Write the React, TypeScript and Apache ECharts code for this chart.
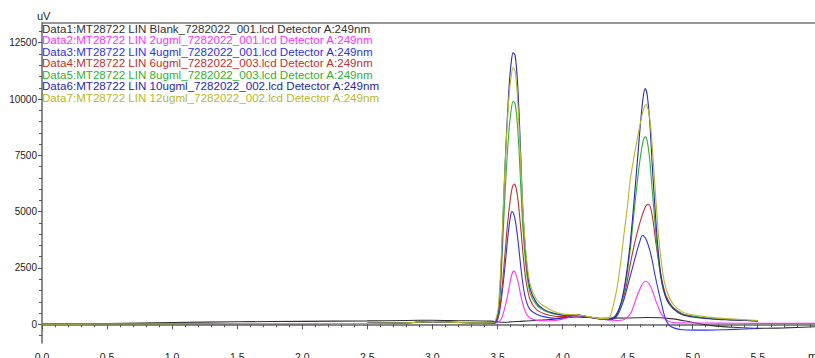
import React, { useEffect, useRef } from "react";
import * as echarts from "echarts";

const SERIES_NAMES = [
  "Data1:MT28722 LIN Blank_7282022_001.lcd Detector A:249nm",
  "Data2:MT28722 LIN 2ugml_7282022_001.lcd Detector A:249nm",
  "Data3:MT28722 LIN 4ugml_7282022_001.lcd Detector A:249nm",
  "Data4:MT28722 LIN 6ugml_7282022_003.lcd Detector A:249nm",
  "Data5:MT28722 LIN 8ugml_7282022_003.lcd Detector A:249nm",
  "Data6:MT28722 LIN 10ugml_7282022_002.lcd Detector A:249nm",
  "Data7:MT28722 LIN 12ugml_7282022_002.lcd Detector A:249nm",
];
const SERIES_COLORS = ["#303030", "#ff30ff", "#3030f0", "#c03030", "#30b030", "#2828b0", "#b8b828"];

// baseline segment shared by the sample runs (time min, uV)
const BASELINE = [[0, 0], [0.5, 10], [1.0, 20], [1.5, 30], [2.0, 30], [2.5, 40], [2.8, 70], [3.0, 120], [3.2, 80], [3.4, 70]];

const DATA1 = [[0, 0], [0.5, 30], [1.0, 80], [1.5, 110], [2.0, 130], [2.5, 150], [2.8, 170], [3.0, 180], [3.2, 160], [3.45, 140], [3.55, 90], [3.7, 140], [3.9, 210], [4.1, 330], [4.3, 270], [4.5, 280], [4.65, 300], [4.85, 240], [5.0, 80], [5.15, -60], [5.3, -130], [5.5, -180], [5.7, -160], [5.94, -110]];

const DATA2 = [[3.47, 50], [3.5, 80], [3.53, 250], [3.555, 700], [3.575, 1200], [3.595, 1800], [3.61, 2200], [3.625, 2370], [3.64, 2250], [3.66, 1850], [3.68, 1250], [3.7, 800], [3.72, 480], [3.75, 280], [3.8, 180], [3.86, 160], [3.94, 170], [4.02, 260], [4.1, 380], [4.2, 320], [4.3, 220],
  [4.35, 190], [4.42, 170], [4.47, 200], [4.5, 320], [4.53, 550], [4.56, 1050], [4.59, 1500], [4.615, 1800], [4.64, 1910], [4.665, 1800], [4.69, 1500], [4.71, 1150], [4.73, 850], [4.76, 450], [4.8, 180], [4.85, 80], [4.95, 60], [5.2, 50], [5.5, 40], [5.94, 40]];

const DATA3 = [[3.47, 40], [3.5, 200], [3.52, 700], [3.54, 1600], [3.56, 2700], [3.58, 3900], [3.6, 4800], [3.612, 5000], [3.625, 4900], [3.64, 4500], [3.66, 3600], [3.68, 2500], [3.7, 1600], [3.72, 1050], [3.75, 650], [3.8, 450], [3.86, 330], [3.94, 270], [4.02, 300], [4.1, 400], [4.2, 310], [4.3, 220],
  [4.35, 200], [4.4, 260], [4.43, 480], [4.47, 1065], [4.5, 1700], [4.53, 2350], [4.56, 3000], [4.59, 3600], [4.615, 3950], [4.64, 3800], [4.67, 3300], [4.69, 2800], [4.71, 2200], [4.74, 1400], [4.765, 800], [4.79, 250], [4.82, -50], [4.86, -170], [4.92, -240], [5.0, -260], [5.1, -260], [5.25, -240], [5.4, -210], [5.5, -180]];

const DATA4 = [[3.47, 50], [3.5, 250], [3.52, 800], [3.54, 1900], [3.56, 3300], [3.58, 4600], [3.6, 5600], [3.615, 6100], [3.63, 6220], [3.645, 6000], [3.66, 5400], [3.68, 4200], [3.7, 2900], [3.72, 1900], [3.75, 1100], [3.8, 650], [3.86, 470], [3.94, 360], [4.02, 340], [4.1, 410], [4.2, 320], [4.3, 230],
  [4.35, 220], [4.4, 350], [4.43, 620], [4.46, 1050], [4.49, 1700], [4.52, 2650], [4.55, 3500], [4.58, 4200], [4.61, 4800], [4.64, 5250], [4.66, 5330], [4.68, 5100], [4.7, 4400], [4.72, 3500], [4.745, 2550], [4.77, 1800], [4.8, 1200], [4.85, 750], [4.92, 470], [5.0, 360], [5.1, 280], [5.25, 210], [5.5, 150]];

const DATA5 = [[3.47, 50], [3.5, 320], [3.515, 900], [3.53, 2300], [3.545, 4200], [3.56, 6000], [3.575, 7500], [3.59, 8700], [3.605, 9500], [3.62, 9900], [3.635, 9800], [3.65, 9100], [3.665, 7800], [3.68, 6000], [3.695, 4300], [3.72, 2500], [3.75, 1400], [3.8, 850], [3.86, 600], [3.94, 450], [4.02, 390], [4.1, 420], [4.2, 330], [4.3, 240],
  [4.35, 230], [4.4, 300], [4.43, 550], [4.46, 1100], [4.49, 2000], [4.52, 3300], [4.55, 5000], [4.58, 6600], [4.6, 7500], [4.62, 8150], [4.635, 8320], [4.65, 8150], [4.67, 7300], [4.69, 5900], [4.71, 4500], [4.73, 3200], [4.76, 1900], [4.8, 1100], [4.85, 720], [4.92, 460], [5.0, 350], [5.1, 280], [5.25, 210], [5.5, 150]];

const DATA6 = [[3.47, 60], [3.5, 350], [3.515, 1100], [3.53, 2800], [3.545, 5100], [3.56, 7300], [3.575, 9100], [3.59, 10600], [3.605, 11600], [3.62, 12050], [3.635, 11950], [3.65, 11100], [3.665, 9500], [3.68, 7300], [3.695, 5100], [3.72, 2900], [3.75, 1600], [3.8, 950], [3.86, 650], [3.94, 480], [4.02, 400], [4.1, 420], [4.2, 320], [4.3, 240],
  [4.35, 230], [4.4, 300], [4.43, 600], [4.46, 1200], [4.49, 2200], [4.52, 3600], [4.55, 5500], [4.58, 7600], [4.6, 9000], [4.62, 10100], [4.635, 10470], [4.65, 10200], [4.67, 9000], [4.69, 7000], [4.71, 5200], [4.73, 3600], [4.76, 2000], [4.8, 1100], [4.85, 700], [4.92, 420], [5.0, 320], [5.1, 260], [5.25, 200], [5.5, 150]];

const DATA7 = [[3.47, 80], [3.5, 500], [3.515, 1400], [3.53, 3100], [3.545, 5200], [3.56, 7200], [3.575, 8900], [3.59, 10200], [3.605, 11000], [3.62, 11400], [3.635, 11250], [3.65, 10400], [3.665, 8900], [3.68, 7000], [3.695, 5100], [3.72, 3100], [3.75, 1800], [3.8, 1100], [3.86, 800], [3.94, 560], [4.02, 440], [4.1, 430], [4.2, 340], [4.3, 250],
  [4.35, 250], [4.38, 620], [4.42, 1660], [4.45, 2900], [4.47, 3900], [4.5, 5300], [4.52, 6400], [4.545, 7300], [4.57, 8100], [4.6, 9000], [4.62, 9500], [4.64, 9750], [4.66, 9500], [4.68, 8600], [4.7, 7000], [4.72, 5300], [4.74, 3800], [4.77, 2300], [4.8, 1500], [4.85, 900], [4.92, 550], [5.0, 420], [5.1, 330], [5.25, 250], [5.5, 170]];

const Y_LABELS = [0, 2500, 5000, 7500, 10000, 12500];
const Y_MINOR = [-500, 0, 500, 1000, 1500, 2000, 2500, 3000, 3500, 4000, 4500, 5000, 5500, 6000, 6500, 7000, 7500, 8000, 8500, 9000, 9500, 10000, 10500, 11000, 11500, 12000, 12500, 13000];
const X_LABELS = [0, 0.5, 1.0, 1.5, 2.0, 2.5, 3.0, 3.5, 4.0, 4.5, 5.0, 5.5];
const X_MINOR = [0, 0.1, 0.2, 0.3, 0.4, 0.5, 0.6, 0.7, 0.8, 0.9, 1.0, 1.1, 1.2, 1.3, 1.4, 1.5, 1.6, 1.7, 1.8, 1.9, 2.0, 2.1, 2.2, 2.3, 2.4, 2.5, 2.6, 2.7, 2.8, 2.9, 3.0, 3.1, 3.2, 3.3, 3.4, 3.5, 3.6, 3.7, 3.8, 3.9, 4.0, 4.1, 4.2, 4.3, 4.4, 4.5, 4.6, 4.7, 4.8, 4.9, 5.0, 5.1, 5.2, 5.3, 5.4, 5.5, 5.6, 5.7, 5.8, 5.9];

const FONT = "'Liberation Sans', Arial, sans-serif";

export default function App() {
  const ref = useRef<HTMLDivElement>(null);
  useEffect(() => {
    document.body.style.margin = "0";
    if (!ref.current) return;
    const chart = echarts.init(ref.current, null, { renderer: "svg" });
    const samples = [DATA2, DATA3, DATA4, DATA5, DATA6, DATA7].map((d) => BASELINE.concat(d));
    const all = [DATA1, ...samples];
    const X_MIN = 0, X_MAX = 5.94, Y_MIN = -831, Y_MAX = 13375;
    const axisBase = { type: "value" as const, min: X_MIN, max: X_MAX, position: "bottom" as const, splitLine: { show: false } };
    const yBase = { type: "value" as const, min: Y_MIN, max: Y_MAX, position: "left" as const, splitLine: { show: false } };
    chart.setOption({
      animation: false,
      grid: { left: 42, top: 23, width: 773, height: 320, outerBoundsMode: "none", containLabel: false },
      xAxis: [
        {
          ...axisBase,
          axisLine: { lineStyle: { color: "#8a8a8a", width: 2 } },
          axisTick: { customValues: X_LABELS, length: 5, lineStyle: { color: "#555" } },
          axisLabel: { customValues: X_LABELS, formatter: (v: number) => v.toFixed(1), color: "#222", fontSize: 10.5, fontFamily: FONT, margin: 8 },
        },
        {
          ...axisBase,
          axisLine: { show: false },
          axisTick: { customValues: X_MINOR, length: 3, lineStyle: { color: "#555" } },
          axisLabel: { show: false },
        },
      ],
      yAxis: [
        {
          ...yBase,
          axisLine: { lineStyle: { color: "#666", width: 1.5 } },
          axisTick: { customValues: Y_LABELS, length: 4, lineStyle: { color: "#555" } },
          axisLabel: { customValues: Y_LABELS, formatter: (v: number) => String(v), color: "#222", fontSize: 10, fontFamily: FONT, margin: 5 },
        },
        {
          ...yBase,
          axisLine: { show: false },
          axisTick: { customValues: Y_MINOR, length: 3, lineStyle: { color: "#555" } },
          axisLabel: { show: false },
        },
      ],
      series: all.map((d, i) => ({
        type: "line",
        name: SERIES_NAMES[i],
        data: d,
        xAxisIndex: 0,
        yAxisIndex: 0,
        showSymbol: false,
        symbol: "none",
        smooth: 0.3,
        lineStyle: { color: SERIES_COLORS[i], width: 1.1 },
        itemStyle: { color: SERIES_COLORS[i] },
        z: 2,
      })),
      graphic: [
        { type: "line", shape: { x1: 42, y1: 23, x2: 815, y2: 23 }, style: { stroke: "#333", lineWidth: 1.2 }, z: 10 },
        { type: "text", x: 37, y: 16, style: { text: "uV", fill: "#222", font: `11px ${FONT}`, textVerticalAlign: "middle" } },
        { type: "text", x: 808, y: 356, style: { text: "min", fill: "#222", font: `11px ${FONT}`, textVerticalAlign: "middle" } },
        ...SERIES_NAMES.map((n, i) => ({
          type: "text",
          x: 42,
          y: 28.5 + i * 11.45,
          z: 20,
          style: { text: n, fill: SERIES_COLORS[i], font: `11.6px ${FONT}`, lineHeight: 11.2, textVerticalAlign: "middle" },
        })),
      ],
    });
    return () => chart.dispose();
  }, []);
  return <div ref={ref} style={{ width: 815, height: 358 }} />;
}
